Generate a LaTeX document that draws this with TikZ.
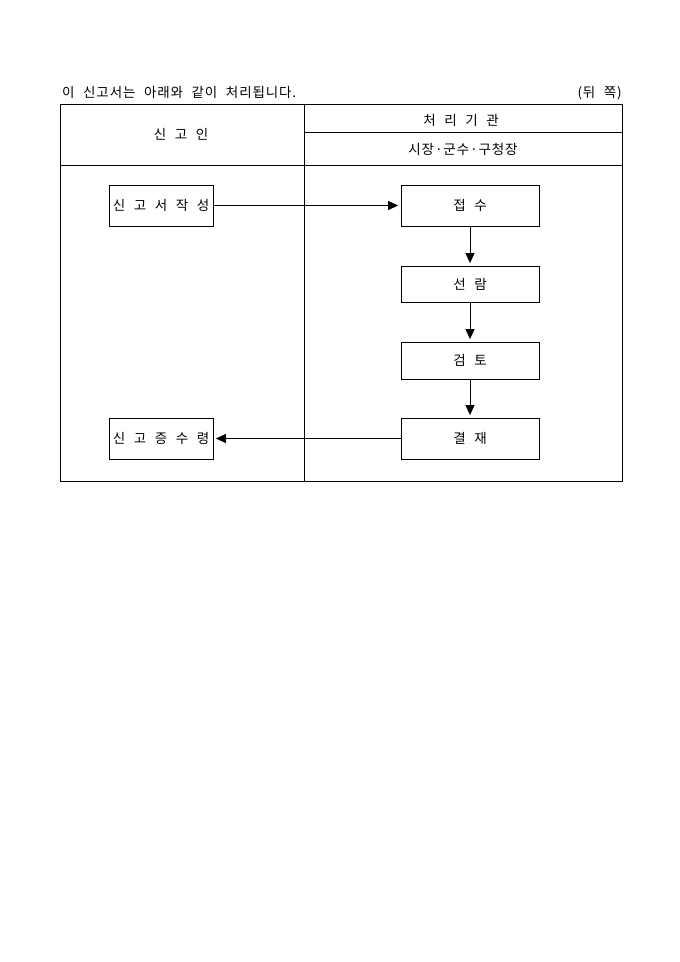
\documentclass[tikz,border=0pt]{standalone}
\usepackage{fontspec}
\setmainfont{Noto Sans CJK KR}[WordSpace=2.2, LetterSpace=6.5]
\usetikzlibrary{arrows.meta}
\tikzset{
    stepbox/.style={draw, line width=0.8pt, inner sep=0pt, font=\fontsize{13.5}{16}\selectfont},
    leftbox/.style={stepbox, minimum width=104pt},
    rightbox/.style={stepbox, minimum width=138pt},
    flow/.style={line width=0.8pt, -{Triangle[length=10pt,width=9pt]}, shorten >=2.5pt},
    label/.style={inner sep=0pt, font=\fontsize{13.5}{16}\selectfont},
}
\begin{document}
\begin{tikzpicture}[x=1pt,y=-1pt]
    \useasboundingbox (0,0) rectangle (680,962);

    \node[label, anchor=base west] (title) at (62,97) {이 신고서는 아래와 같이 처리됩니다.};
    \node[label, anchor=base east] (side) at (622,97) {(뒤 쪽)};

    \draw[line width=0.8pt] (60,104) rectangle (622,481);
    \draw[line width=0.8pt] (304,104) -- (304,481);
    \draw[line width=0.8pt] (60,165) -- (622,165);
    \draw[line width=0.8pt] (304,132) -- (622,132);

    \node[label] (applicant) at (181,134) {신 고 인};
    \node[label] (office) at (461,120) {처 리 기 관};
    \node[label] (mayor) at (463,149) {시장·군수·구청장};

    \node[leftbox, minimum height=41pt] (write) at (161,205.5) {신 고 서 작 성};
    \node[rightbox, minimum height=41pt] (receive) at (470,205.5) {접 수};
    \node[rightbox, minimum height=36pt] (read) at (470,284) {선 람};
    \node[rightbox, minimum height=37pt] (review) at (470,360.5) {검 토};
    \node[rightbox, minimum height=41pt] (approve) at (470,438.5) {결 재};
    \node[leftbox, minimum height=41pt] (issue) at (161,438.5) {신 고 증 수 령};

    \draw[flow] (write) -- (receive);
    \draw[flow] (receive) -- (read);
    \draw[flow] (read) -- (review);
    \draw[flow] (review) -- (approve);
    \draw[flow] (approve) -- (issue);
\end{tikzpicture}
\end{document}
